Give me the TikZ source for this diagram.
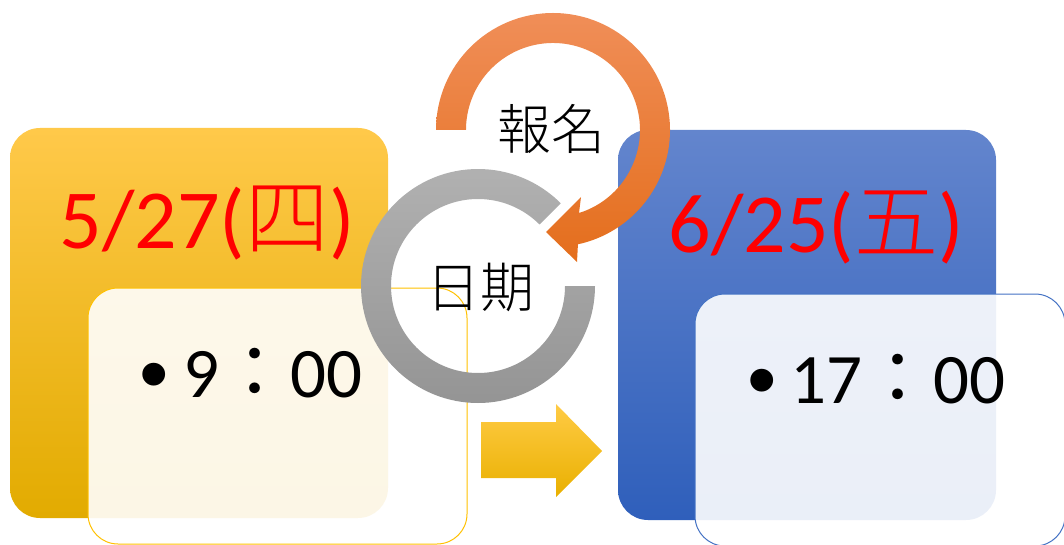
\documentclass[tikz,border=0pt]{standalone}
\usepackage{fontspec}
\setmainfont{Carlito}
\newfontfamily\cjk{Noto Sans CJK TC}
\newfontfamily\cjkl{Noto Sans CJK TC}[UprightFont=* Light]
\newfontfamily\bulfont{Liberation Sans}
\definecolor{yTop}{RGB}{255,201,74}
\definecolor{yMid}{RGB}{255,192,0}
\definecolor{yBot}{RGB}{226,171,0}
\definecolor{bTop}{RGB}{99,133,205}
\definecolor{bMid}{RGB}{68,114,196}
\definecolor{bBot}{RGB}{47,95,187}
\definecolor{oTop}{RGB}{240,142,88}
\definecolor{oBot}{RGB}{228,110,28}
\definecolor{gTop}{RGB}{178,178,178}
\definecolor{gBot}{RGB}{147,147,147}
\definecolor{aTop}{RGB}{255,203,69}
\definecolor{aBot}{RGB}{233,176,0}
\begin{document}
\begin{tikzpicture}[x=1pt,y=1pt,
  panel/.style={rectangle, rounded corners=30pt, inner sep=0pt, outer sep=0pt, anchor=north west, draw=none},
  ypanel/.style={panel, top color=yTop, middle color=yMid, bottom color=yBot},
  bpanel/.style={panel, top color=bTop, middle color=bMid, bottom color=bBot},
  ibox/.style={panel, fill=white, fill opacity=0.9, line width=1pt},
  datetext/.style={text=red, inner sep=0pt, anchor=base, font=\fontsize{84}{84}\selectfont},
  timetext/.style={text=black, inner sep=0pt, anchor=base west, font=\fontsize{71}{71}\selectfont},
  bultext/.style={text=black, inner sep=0pt, anchor=base, font=\bulfont\fontsize{84}{84}\selectfont},
  cyctext/.style={text=black, inner sep=0pt, font=\cjkl\fontsize{54}{54}\selectfont}
]
\useasboundingbox (0,0) rectangle (1064,-545);

% panels
\node[ypanel, minimum width=378pt, minimum height=390pt] (lp) at (10,-128) {};
\node[bpanel, minimum width=378pt, minimum height=390pt] (rp) at (618,-130) {};

% dates
\node[datetext] (d1) at (207,-248) {5/27({\cjkl 四})};
\node[datetext] (d2) at (816,-252) {6/25({\cjkl 五})};

% inner boxes
\node[ibox, draw=yMid, minimum width=379pt, minimum height=256pt] (lb) at (88,-288) {};
\node[ibox, draw=bMid, minimum width=370pt, minimum height=252pt] (rb) at (695,-294) {};

% times
\node[bultext] (b1) at (154,-402) {•};
\node[timetext] (t1) at (183,-397) {9{\cjk ：}00};
\node[bultext] (b2) at (762,-408) {•};
\node[timetext] (t2) at (790,-403) {17{\cjk ：}00};

% block arrow
\path[top color=aTop, middle color=yMid, bottom color=aBot]
  (481,-422) -- (556,-422) -- (556,-404) -- (602,-451) -- (556,-497) -- (556,-478) -- (481,-478) -- cycle;

% gray ring
\path[top color=gTop, bottom color=gBot]
  (560.73,-203.27) arc[start angle=45, end angle=360, radius=117] -- (565,-286)
  arc[start angle=360, end angle=45, radius=87] -- cycle;

% orange circular arrow
\path[top color=oTop, bottom color=oBot]
  (436,-130) arc[start angle=180, end angle=-77.7, radius=117]
  -- (577,-262) -- (546,-232) -- (581,-197) -- (579,-213)
  arc[start angle=-72.6, end angle=180, radius=87] -- cycle;

% cycle labels
\node[cyctext] (c1) at (551,-129) {報名};
\node[cyctext] (c2) at (480,-287) {日期};
\end{tikzpicture}
\end{document}
